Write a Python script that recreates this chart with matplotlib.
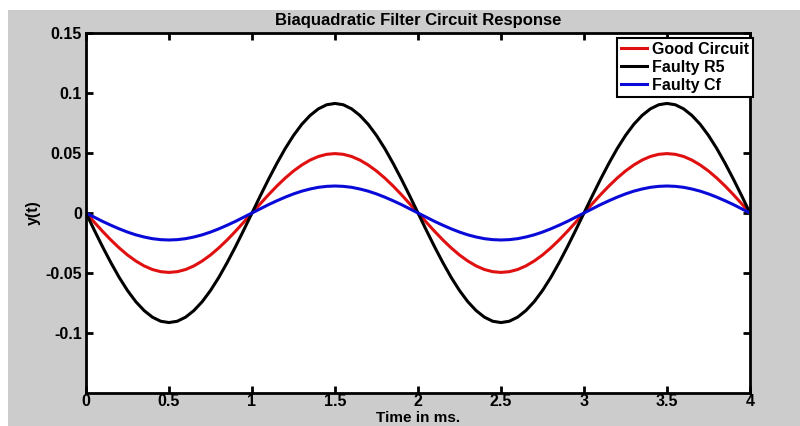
import matplotlib
matplotlib.use("Agg")
import matplotlib.pyplot as plt
from matplotlib.patches import Rectangle

plt.rcParams['font.family'] = ['Liberation Sans', 'DejaVu Sans']

t = [round(0.05 * i, 2) for i in range(81)]

good_circuit = [
    0, -.0077, -.0153, -.0225, -.0291, -.0350, -.0400, -.0441, -.0471, -.0489,
    -.0495, -.0489, -.0471, -.0441, -.0400, -.0350, -.0291, -.0225, -.0153, -.0077,
    0, .0077, .0153, .0225, .0291, .0350, .0400, .0441, .0471, .0489,
    .0495, .0489, .0471, .0441, .0400, .0350, .0291, .0225, .0153, .0077,
    0, -.0077, -.0153, -.0225, -.0291, -.0350, -.0400, -.0441, -.0471, -.0489,
    -.0495, -.0489, -.0471, -.0441, -.0400, -.0350, -.0291, -.0225, -.0153, -.0077,
    0, .0077, .0153, .0225, .0291, .0350, .0400, .0441, .0471, .0489,
    .0495, .0489, .0471, .0441, .0400, .0350, .0291, .0225, .0153, .0077, 0]
faulty_r5 = [
    0, -.0143, -.0282, -.0414, -.0537, -.0646, -.0739, -.0813, -.0868, -.0902,
    -.0913, -.0902, -.0868, -.0813, -.0739, -.0646, -.0537, -.0414, -.0282, -.0143,
    0, .0143, .0282, .0414, .0537, .0646, .0739, .0813, .0868, .0902,
    .0913, .0902, .0868, .0813, .0739, .0646, .0537, .0414, .0282, .0143,
    0, -.0143, -.0282, -.0414, -.0537, -.0646, -.0739, -.0813, -.0868, -.0902,
    -.0913, -.0902, -.0868, -.0813, -.0739, -.0646, -.0537, -.0414, -.0282, -.0143,
    0, .0143, .0282, .0414, .0537, .0646, .0739, .0813, .0868, .0902,
    .0913, .0902, .0868, .0813, .0739, .0646, .0537, .0414, .0282, .0143, 0]
faulty_cf = [
    0, -.0035, -.0070, -.0102, -.0132, -.0159, -.0182, -.0200, -.0214, -.0222,
    -.0225, -.0222, -.0214, -.0200, -.0182, -.0159, -.0132, -.0102, -.0070, -.0035,
    0, .0035, .0070, .0102, .0132, .0159, .0182, .0200, .0214, .0222,
    .0225, .0222, .0214, .0200, .0182, .0159, .0132, .0102, .0070, .0035,
    0, -.0035, -.0070, -.0102, -.0132, -.0159, -.0182, -.0200, -.0214, -.0222,
    -.0225, -.0222, -.0214, -.0200, -.0182, -.0159, -.0132, -.0102, -.0070, -.0035,
    0, .0035, .0070, .0102, .0132, .0159, .0182, .0200, .0214, .0222,
    .0225, .0222, .0214, .0200, .0182, .0159, .0132, .0102, .0070, .0035, 0]

xticks = [0, 0.5, 1, 1.5, 2, 2.5, 3, 3.5, 4]
xticklabels = ['0', '0.5', '1', '1.5', '2', '2.5', '3', '3.5', '4']
yticks = [-0.1, -0.05, 0, 0.05, 0.1, 0.15]
yticklabels = ['-0.1', '-0.05', '0', '0.05', '0.1', '0.15']

fig = plt.figure(figsize=(8, 4.26), dpi=100, facecolor='white')
bg = Rectangle((8 / 800, 0), 1 - 8 / 800, 1 - 10 / 426,
               transform=fig.transFigure, facecolor='#cccccc',
               edgecolor='none', zorder=-10)
fig.add_artist(bg)

ax = fig.add_axes([86 / 800, 1 - 393 / 426, (750 - 86) / 800, (393 - 33) / 426])
ax.set_zorder(1)
ax.set_facecolor('white')

ax.plot(t, good_circuit, color='#e01010', lw=2.2, label='Good Circuit')
ax.plot(t, faulty_r5, color='black', lw=2.2, label='Faulty R5')
ax.plot(t, faulty_cf, color='#0a0ad8', lw=2.2, label='Faulty Cf')

ax.set_xlim(0, 4)
ax.set_ylim(-0.15, 0.15)
ax.set_xticks(xticks)
ax.set_xticklabels(xticklabels)
ax.set_yticks(yticks)
ax.set_yticklabels(yticklabels)

for s in ax.spines.values():
    s.set_linewidth(2.0)
    s.set_color('black')

ax.tick_params(direction='in', top=True, right=True, length=5, width=2,
               labelsize=11.5)
ax.tick_params(axis='x', pad=1)
ax.tick_params(axis='y', pad=3)
for lab in ax.get_xticklabels() + ax.get_yticklabels():
    lab.set_fontweight('bold')

ax.set_title('Biaquadratic Filter Circuit Response', fontsize=12, fontweight='bold', pad=6)
ax.set_xlabel('Time in ms.', fontsize=11, fontweight='bold', labelpad=0.8)
ax.set_ylabel('y(t)', fontsize=11.5, fontweight='bold', labelpad=3)

leg = ax.legend(loc='upper right', bbox_to_anchor=(1.004, 0.987), fancybox=False,
                framealpha=1, edgecolor='black', borderaxespad=0,
                prop={'weight': 'bold', 'size': 11.5}, handlelength=1.6,
                handletextpad=0.3, labelspacing=0.2, borderpad=0.25)
leg.get_frame().set_linewidth(1.5)

fig.savefig('out.png', dpi=100, facecolor=fig.get_facecolor())
